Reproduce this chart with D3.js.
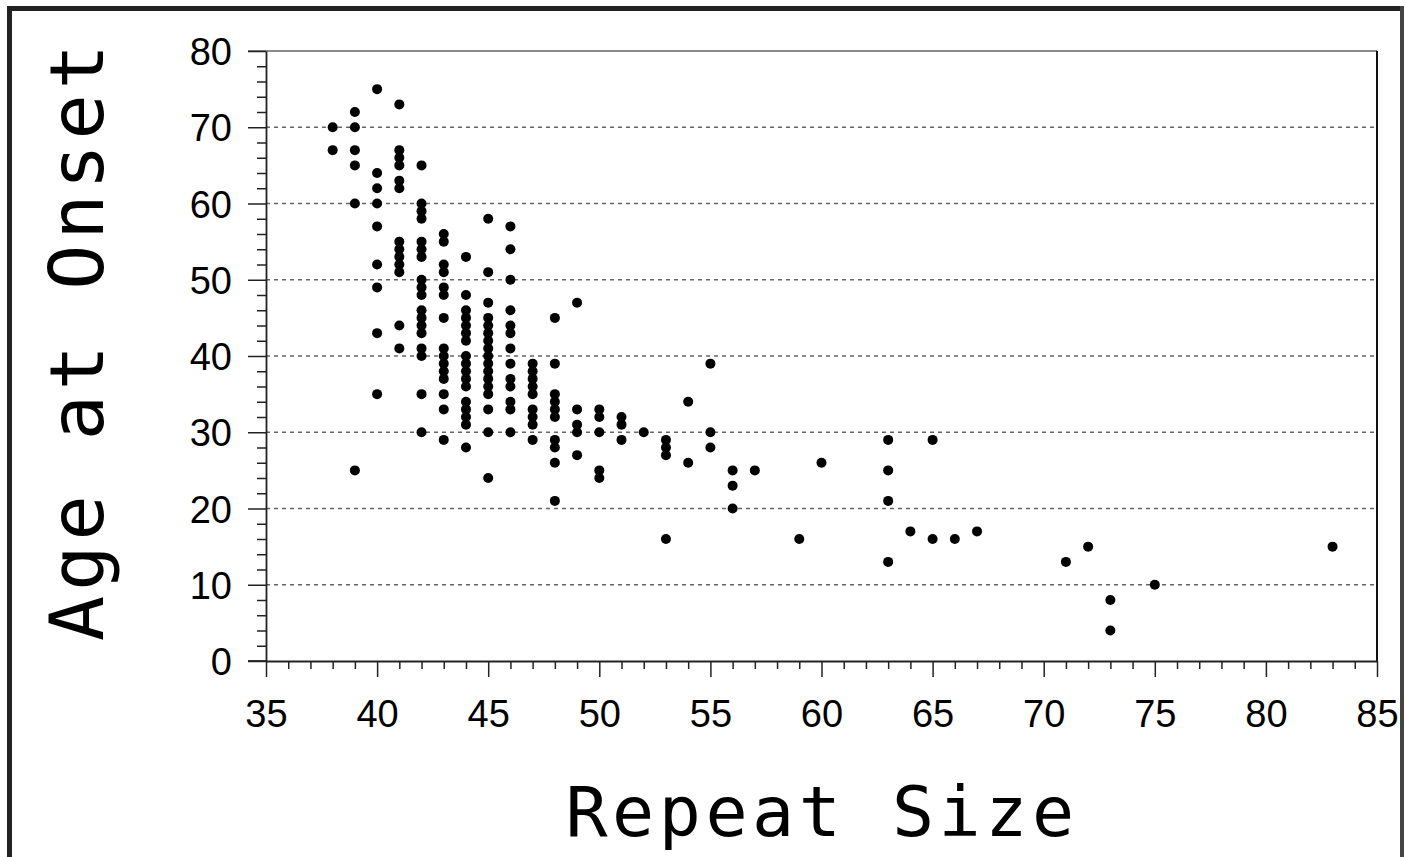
<!DOCTYPE html>
<html lang="en">
<head>
    <meta charset="UTF-8">
    <title>Age at Onset vs Repeat Size</title>
    <script src="https://d3js.org/d3.v7.min.js"></script>
    <style>
        body {
            margin: 0;
            background: #fff;
        }
        .tick-label {
            font-family: "Liberation Sans", Arial, sans-serif;
            font-size: 38px;
            fill: #000;
        }
        .axis-title {
            font-family: "DejaVu Sans Mono", monospace;
            fill: #000;
        }
        .grid {
            stroke: #666;
            stroke-width: 1.3px;
            stroke-dasharray: 4 4;
        }
    </style>
</head>
<body>
    <div id="chart"></div>

    <script>
        // Data: repeat sizes and the onset ages observed at each
        const repeatSizes = [38, 39, 40, 41, 42, 43, 44, 45, 46, 47, 48, 49, 50, 51, 52, 53, 54, 55,
                             56, 57, 59, 60, 63, 64, 65, 66, 67, 71, 72, 73, 75, 83];
        const onsetAges = [
            [70, 67],
            [72, 70, 67, 65, 60, 25],
            [75, 64, 62, 60, 57, 52, 49, 43, 35],
            [73, 67, 66, 65, 63, 62, 55, 54, 53, 52, 51, 44, 41],
            [65, 60, 59, 58, 55, 54, 53, 50, 49, 48, 46, 45, 44, 43, 41, 40, 35, 30],
            [56, 55, 52, 51, 49, 48, 45, 41, 40, 39, 38, 37, 35, 33, 29],
            [53, 48, 46, 45, 44, 43, 42, 40, 39, 38, 37, 36, 34, 33, 32, 31, 28],
            [58, 51, 47, 45, 44, 43, 42, 41, 40, 39, 38, 37, 36, 35, 33, 30, 24],
            [57, 54, 50, 46, 44, 43, 41, 39, 37, 36, 34, 33, 30],
            [39, 38, 37, 36, 35, 33, 32, 31, 29],
            [45, 39, 35, 34, 33, 32, 29, 28, 26, 21],
            [47, 33, 31, 30, 27],
            [33, 32, 30, 25, 24],
            [32, 31, 29],
            [30],
            [29, 28, 27, 16],
            [34, 26],
            [39, 30, 28],
            [25, 23, 20],
            [25],
            [16],
            [26],
            [29, 25, 21, 13],
            [17],
            [29, 16],
            [16],
            [17],
            [13],
            [15],
            [8, 4],
            [10],
            [15]
        ];
        const xTicks = [35, 40, 45, 50, 55, 60, 65, 70, 75, 80, 85];
        const yTicks = [0, 10, 20, 30, 40, 50, 60, 70, 80];

        const points = [];
        repeatSizes.forEach((r, i) => onsetAges[i].forEach(a => points.push({ r: r, a: a })));

        const W = 1406, H = 857;
        const svg = d3.select("#chart")
                      .append("svg")
                      .attr("width", W)
                      .attr("height", H);

        // Outer frame
        svg.append("path")
           .attr("d", `M9.5,${H + 10} V8.5 H1401`)
           .attr("fill", "none")
           .attr("stroke", "#222")
           .attr("stroke-width", 5);
        svg.append("line")
           .attr("x1", 1402).attr("x2", 1402)
           .attr("y1", 6).attr("y2", H)
           .attr("stroke", "#444")
           .attr("stroke-width", 4);

        // Scales
        const x = d3.scaleLinear().domain([35, 85]).range([266, 1377]);
        const y = d3.scaleLinear().domain([0, 80]).range([661, 51]);

        // Dotted gridlines
        svg.append("g")
           .selectAll("line")
           .data(yTicks.filter(d => d > 0 && d < 80))
           .join("line")
           .attr("class", "grid")
           .attr("x1", x(35)).attr("x2", x(85))
           .attr("y1", d => y(d)).attr("y2", d => y(d));

        // Top border (gray) and right border
        svg.append("line")
           .attr("x1", x(35) - 18).attr("x2", x(85))
           .attr("y1", y(80)).attr("y2", y(80))
           .attr("stroke", "#666").attr("stroke-width", 1.5);
        svg.append("line")
           .attr("x1", x(85)).attr("x2", x(85))
           .attr("y1", y(80)).attr("y2", y(0))
           .attr("stroke", "#111").attr("stroke-width", 2);

        // Y axis
        const yAxis = svg.append("g").attr("transform", `translate(${x(35)},0)`);
        yAxis.call(d3.axisLeft(y).tickValues(d3.range(0, 81, 2)).tickFormat("").tickSize(9).tickSizeOuter(0));
        yAxis.selectAll(".tick line")
             .attr("x2", d => d % 10 === 0 ? -18 : -9)
             .attr("stroke", "#222").attr("stroke-width", 1.5);
        yAxis.select(".domain").attr("stroke", "#222").attr("stroke-width", 1.8);
        yAxis.selectAll(".tick")
             .filter(d => d % 10 === 0)
             .append("text")
             .attr("class", "tick-label")
             .attr("x", -34)
             .attr("dy", "0.36em")
             .attr("text-anchor", "end")
             .text(d => d);

        // X axis
        const xAxis = svg.append("g").attr("transform", `translate(0,${y(0)})`);
        xAxis.call(d3.axisBottom(x).tickValues(d3.range(35, 86, 1)).tickFormat("").tickSize(8).tickSizeOuter(0));
        xAxis.selectAll(".tick line")
             .attr("y2", d => d % 5 === 0 ? 16 : 8)
             .attr("stroke", "#222").attr("stroke-width", 1.5);
        xAxis.select(".domain").attr("stroke", "#222").attr("stroke-width", 1.8);
        xAxis.append("line")
             .attr("x1", x(35) - 18).attr("x2", x(35))
             .attr("stroke", "#222").attr("stroke-width", 1.8);
        xAxis.selectAll(".tick")
             .filter(d => xTicks.includes(d))
             .append("text")
             .attr("class", "tick-label")
             .attr("y", 66)
             .attr("text-anchor", "middle")
             .text(d => d);

        // Points
        svg.append("g")
           .selectAll("circle")
           .data(points)
           .join("circle")
           .attr("cx", d => x(d.r))
           .attr("cy", d => y(d.a))
           .attr("r", 5)
           .attr("fill", "#000");

        // Axis titles
        svg.append("text")
           .attr("class", "axis-title")
           .attr("x", 822)
           .attr("y", 836)
           .attr("text-anchor", "middle")
           .attr("font-size", 70)
           .attr("letter-spacing", 4.5)
           .text("Repeat Size");

        svg.append("text")
           .attr("class", "axis-title")
           .attr("transform", "translate(103,340) rotate(-90)")
           .attr("text-anchor", "middle")
           .attr("font-size", 75)
           .attr("letter-spacing", 5)
           .text("Age at Onset");
    </script>
</body>
</html>
